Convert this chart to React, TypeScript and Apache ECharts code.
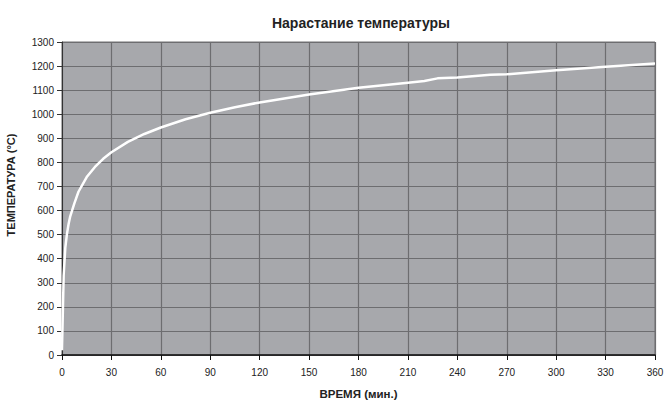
import React, { useEffect, useRef } from "react";
import * as echarts from "echarts";

const timeMin = [0, 1, 2, 3, 4, 5, 7.5, 10, 15, 20, 25, 30, 40, 50, 60, 75, 90, 105, 120, 150, 180, 210, 220, 228, 240, 260, 270, 300, 330, 360];
const tempC = [20, 330, 445, 502, 544, 576, 630, 678, 739, 781, 815, 842, 885, 918, 945, 979, 1006, 1029, 1049, 1082, 1110, 1131, 1138, 1149, 1153, 1164, 1166, 1183, 1197, 1211];

const title = "Нарастание температуры";
const xName = "ВРЕМЯ (мин.)";
const yName = "ТЕМПЕРАТУРА (°C)";

export default function App() {
  const ref = useRef<HTMLDivElement>(null);
  useEffect(() => {
    if (!ref.current) return;
    const chart = echarts.init(ref.current, undefined, { renderer: "svg" });
    const font = "Liberation Sans, Arial, sans-serif";
    chart.setOption({
      animation: false,
      backgroundColor: "#ffffff",
      title: {
        text: title,
        left: 356,
        top: 11,
        textAlign: "center",
        textStyle: { fontFamily: font, fontSize: 14, fontWeight: "bold", color: "#222" },
      },
      graphic: [
        {
          type: "text",
          x: 11,
          y: 185,
          rotation: Math.PI / 2,
          style: {
            text: yName,
            fontFamily: font,
            fontSize: 11,
            fontWeight: "bold",
            fill: "#222",
            align: "center",
            verticalAlign: "middle",
          },
        },
      ],
      grid: {
        left: 62,
        right: 11,
        top: 42,
        bottom: 48,
        outerBoundsMode: "none",
        containLabel: false,
        show: true,
        backgroundColor: "#a7a8ac",
        borderColor: "#707073",
        borderWidth: 1,
      },
      xAxis: {
        type: "value",
        min: 0,
        max: 360,
        interval: 30,
        name: xName,
        nameLocation: "middle",
        nameGap: 33,
        nameTextStyle: { fontFamily: font, fontSize: 11.5, fontWeight: "bold", color: "#222" },
        axisLine: { show: true, lineStyle: { color: "#111", width: 1.5 } },
        axisTick: { show: true, length: 5, lineStyle: { color: "#111" } },
        axisLabel: { fontFamily: font, fontSize: 10, color: "#222", margin: 12 },
        splitLine: { show: true, lineStyle: { color: "#6d6d70", width: 1.2 } },
      },
      yAxis: {
        type: "value",
        min: 0,
        max: 1300,
        interval: 100,
        axisLine: { show: true, lineStyle: { color: "#333", width: 1 } },
        axisTick: { show: true, length: 5, lineStyle: { color: "#333" } },
        axisLabel: { fontFamily: font, fontSize: 10, color: "#222", margin: 8, formatter: (v: number) => String(v) },
        splitLine: { show: true, lineStyle: { color: "#6d6d70", width: 1.2 } },
      },
      series: [
        {
          type: "line",
          data: timeMin.map((t, i) => [t, tempC[i]]),
          showSymbol: false,
          symbol: "none",
          lineStyle: { color: "#ffffff", width: 2.5 },
        },
      ],
    });
    return () => chart.dispose();
  }, []);
  return <div ref={ref} style={{ width: 666, height: 403, position: "absolute", left: 0, top: 0 }} />;
}
